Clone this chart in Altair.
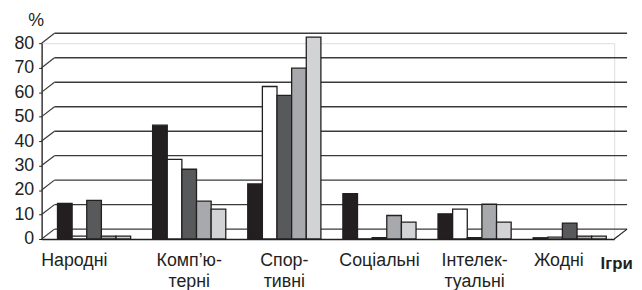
import altair as alt
import pandas as pd

categories = ["Народні", "Комп’ю-терні", "Спор-тивні", "Соціальні", "Інтелек-туальні", "Жодні"]
series = ["Ряд 1", "Ряд 2", "Ряд 3", "Ряд 4", "Ряд 5"]
s1 = [14.5, 46.5, 22.5, 18.5, 10.3, 0.5]
s2 = [1.2, 32.5, 62.3, 0.0, 12.2, 0.8]
s3 = [15.8, 28.5, 58.7, 0.6, 0.6, 6.5]
s4 = [1.2, 15.5, 69.8, 9.6, 14.2, 1.2]
s5 = [1.2, 12.2, 82.5, 6.9, 6.9, 1.2]
colors = ["#231f20", "#ffffff", "#58595b", "#a7a9ac", "#d1d3d4"]
ticks = [0, 10, 20, 30, 40, 50, 60, 70, 80]

rows = []
for name, vals in zip(series, [s1, s2, s3, s4, s5]):
    for c, v in zip(categories, vals):
        rows.append({"cat": c, "ser": name, "val": v})
df = pd.DataFrame(rows)
tdf = pd.DataFrame({"val": ticks})

FONT = "Liberation Sans"
INK = "#231f20"
W, H = 579, 198
DX, DY = 13, -10

yscale = alt.Scale(domain=[0, 80], nice=False)
yaxis = alt.Axis(values=ticks, title="%", titleAngle=0, titleFont=FONT, titleFontSize=18,
                 titleFontWeight="normal", titleColor=INK, titleX=-6, titleY=-23,
                 titleAlign="center", titleBaseline="middle",
                 labelFont=FONT, labelFontSize=18, labelColor=INK, labelPadding=5,
                 tickSize=3, tickColor=INK, domainColor=INK, domainWidth=1.3, grid=False)

grid = alt.Chart(tdf).mark_rule(color="#3a3a3a", strokeWidth=1.4, yOffset=DY, y2Offset=DY).encode(
    x=alt.value(DX), x2=alt.value(W + DX),
    y=alt.Y("val:Q", scale=yscale, axis=yaxis), y2="val:Q",
)
conn = alt.Chart(tdf).mark_rule(color="#3a3a3a", strokeWidth=1.2, y2Offset=DY).encode(
    x=alt.value(0), x2=alt.value(DX),
    y=alt.Y("val:Q", scale=yscale, axis=yaxis), y2="val:Q",
)
floor_edge = alt.Chart(pd.DataFrame({"val": [0]})).mark_rule(color=INK, strokeWidth=1.2, y2Offset=DY).encode(
    x=alt.value(W), x2=alt.value(W + DX),
    y=alt.Y("val:Q", scale=yscale, axis=yaxis), y2="val:Q",
)

label_expr = ("indexof(datum.label,'-')>0 ? [slice(datum.label,0,indexof(datum.label,'-')+1), "
              "slice(datum.label,indexof(datum.label,'-')+1)] : datum.label")

bars = alt.Chart(df).mark_bar(stroke=INK, strokeWidth=1.3).encode(
    x=alt.X("cat:N", sort=categories,
            scale=alt.Scale(paddingInner=0.231, paddingOuter=0.125, align=0.667),
            axis=alt.Axis(title="Ігри", titleFont=FONT, titleFontSize=17, titleFontWeight="bold",
                          titleColor=INK, titleX=W + 2, titleY=30, titleAlign="center",
                          titleBaseline="alphabetic", titleAnchor="start",
                          labelFont=FONT, labelFontSize=18, labelColor=INK, labelAngle=0,
                          labelBaseline="top", labelPadding=13, labelLineHeight=21,
                          labelExpr=label_expr,
                          labelOffset={"condition": [
                              {"test": "datum.value == 'Народні'", "value": -20},
                              {"test": "datum.value == 'Жодні'", "value": -11}],
                              "value": 0},
                          ticks=False, domainColor=INK, domainWidth=1.3, grid=False)),
    xOffset=alt.XOffset("ser:N", sort=series, scale=alt.Scale(paddingInner=0, paddingOuter=0)),
    y=alt.Y("val:Q", scale=yscale, axis=yaxis),
    fill=alt.Fill("ser:N", sort=series, scale=alt.Scale(domain=series, range=colors), legend=None),
)

chart = alt.layer(grid, conn, floor_edge, bars).properties(
    width=W, height=H,
    padding={"left": 34, "top": 34, "right": 20, "bottom": 50},
    autosize=alt.AutoSizeParams(type="none"),
).configure_view(stroke=None).configure(background="white")

chart.save("out.html", embed_options={"renderer": "svg", "actions": False})
